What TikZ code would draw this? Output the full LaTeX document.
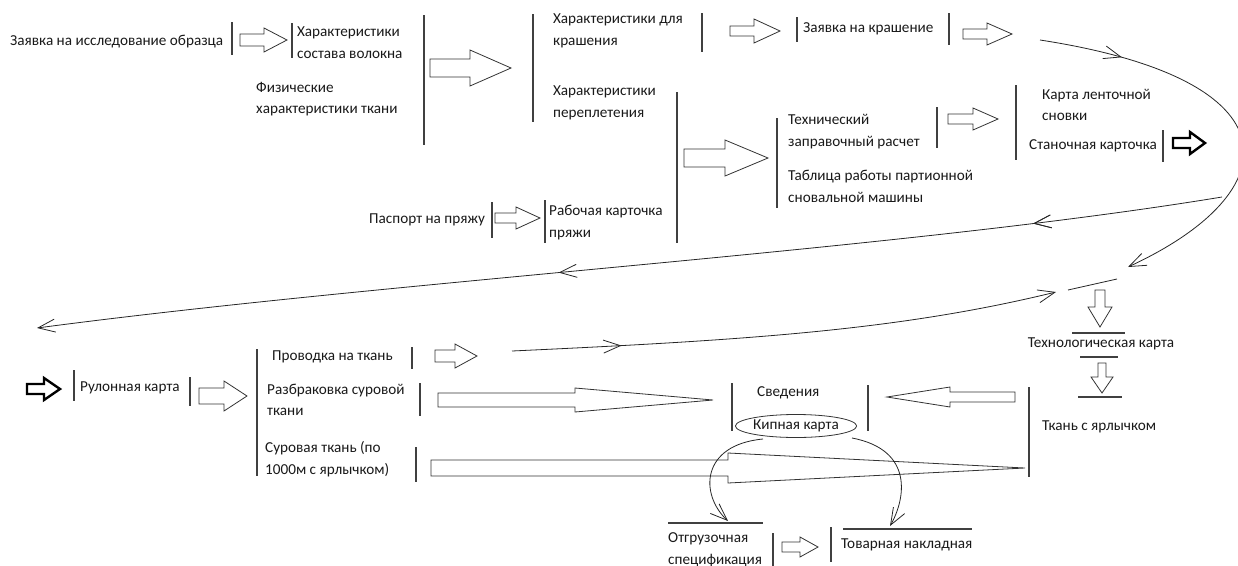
\documentclass[tikz,border=0pt]{standalone}
\usepackage{fontspec}
\setmainfont{Carlito}
\usepackage{tikz}
\usetikzlibrary{arrows.meta,shapes.geometric,decorations.markings}

% hollow block arrow: x from, x to, y, shaft half width, head half width, x where head starts
\newcommand{\blockarr}[7][]{\draw[blockline,#1] (#2,#4-#5) -- (#7,#4-#5) -- (#7,#4-#6) -- (#3,#4) -- (#7,#4+#6) -- (#7,#4+#5) -- (#2,#4+#5) -- cycle;}
% the same, pointing down: x, y from, y to, shaft half width, head half width, y where head starts
\newcommand{\blockdown}[7][]{\draw[blockline,#1] (#2-#5,#3) -- (#2-#5,#7) -- (#2-#6,#7) -- (#2,#4) -- (#2+#6,#7) -- (#2+#5,#7) -- (#2+#5,#3) -- cycle;}

\begin{document}
\begin{tikzpicture}[x=1pt,y=-1pt,
	txt/.style={anchor=west,align=left,inner sep=0pt,text=black!90,font=\fontsize{15.2}{21.5}\selectfont},
	bar/.style={draw=black!75,line width=1.1pt},
	blockline/.style={draw=black!80,line width=0.8pt},
	heavy/.style={line width=2.4pt,draw=black},
	barb/.style={-{Straight Barb[length=17pt,width=13pt]}},
	curve/.style={draw=black!85,line width=0.8pt,barb},
	midbarb/.style={postaction={decorate},decoration={markings,mark=at position #1 with {\arrow{Straight Barb[length=17pt,width=13pt]}}}}]
	\useasboundingbox (0,0) rectangle (1238,565);
	\clip (0,0) rectangle (1238,565);

	% upper part
	\node[txt] (req) at (10,42) {Заявка на исследование образца};
	\node[txt] (fibre) at (297,42.5) {Характеристики\\состава волокна};
	\node[txt] (phys) at (256,99) {Физические\\характеристики ткани};
	\node[txt] (dye) at (553,31) {Характеристики для\\крашения};
	\node[txt] (dyereq) at (803,29) {Заявка на крашение};
	\node[txt] (weave) at (553,103) {Характеристики\\переплетения};
	\node[txt] (tech) at (788,131.5) {Технический\\заправочный расчет};
	\node[txt] (table) at (788,186.5) {Таблица работы партионной\\сновальной машины};
	\node[txt] (tape) at (1042,105) {Карта ленточной\\сновки};
	\node[txt] (loom) at (1029,146) {Станочная карточка};
	\node[txt] (yarnpass) at (369,220) {Паспорт на пряжу};
	\node[txt] (yarncard) at (549,222.5) {Рабочая карточка\\пряжи};

	\draw[bar] (232,22) -- (232,55) (292,23) -- (292,58) (424,15) -- (424,145) (533,14) -- (533,122);
	\draw[bar] (702,13) -- (702,52) (797,17) -- (797,42) (949,13) -- (949,45);
	\draw[bar] (677,92) -- (677,243) (777,118) -- (777,208) (937,107) -- (937,148) (1016,85) -- (1016,160) (1163,130) -- (1163,162);
	\draw[bar] (492,202) -- (492,238) (545,200) -- (545,243);

	\blockarr{240}{287}{40}{6}{12}{264}
	\blockarr{430}{511}{68}{9}{18}{470}
	\blockarr{730}{780}{31}{5}{12}{754}
	\blockarr{963}{1012}{34}{5}{11}{987}
	\blockarr{684}{768}{158}{9}{18}{725}
	\blockarr{948}{998}{119}{5}{11}{973}
	\blockarr[heavy]{1173}{1205}{143}{5}{11}{1190}
	\blockarr{495}{540}{218}{5}{11}{516}

	% long connectors
	\coordinate (loopin) at (1040,40);
	\coordinate (loopout) at (1128,267);
	\coordinate (backin) at (1222,197);
	\coordinate (backout) at (37,328);
	\coordinate (fwdin) at (512,351);
	\coordinate (fwdout) at (1056,292);
	\coordinate (gapin) at (1068,290);
	\coordinate (gapout) at (1117,279);
	\draw[curve,midbarb=0.2] (loopin) .. controls (1300,80) and (1290,192) .. (loopout);
	\draw[curve,midbarb=0.16,postaction={decorate,decoration={markings,mark=at position 0.56 with {\arrow{Straight Barb[length=17pt,width=13pt]}}}}] (backin) .. controls (900,250) and (400,280) .. (backout);
	\draw[curve,midbarb=0.2] (fwdin) .. controls (750,340) and (900,330) .. (fwdout);
	\draw[draw=black!85,line width=0.8pt] (gapin) -- (gapout);

	% lower part
	\node[txt] (roll) at (80,388) {Рулонная карта};
	\node[txt] (thread) at (272,357) {Проводка на ткань};
	\node[txt] (sort) at (267,400) {Разбраковка суровой\\ткани};
	\node[txt] (grey) at (265,459) {Суровая ткань (по\\1000м с ярлычком)};
	\node[txt] (info) at (757,393) {Сведения};
	\node[txt,anchor=center,draw=black!80,line width=0.8pt,ellipse,inner sep=0pt,minimum width=108pt,minimum height=23pt] (bale) at (796,426) {Кипная карта};
	\node[txt,anchor=center] (techmap) at (1101,344) {Технологическая карта};
	\node[txt] (label) at (1042,427) {Ткань с ярлычком};
	\node[txt] (ship) at (668,550) {Отгрузочная\\спецификация};
	\node[txt] (invoice) at (841,545) {Товарная накладная};

	\draw[bar] (74,370) -- (74,401) (190,377) -- (190,406) (257,349) -- (257,476);
	\draw[bar] (412,347) -- (412,369) (420,383) -- (420,416) (416,447) -- (416,482);
	\draw[bar] (732,383) -- (732,431) (868,385) -- (868,431) (1029,387) -- (1029,477);
	\draw[bar] (773,533) -- (773,568) (831,527) -- (831,562);
	\draw[bar] (1072,333) -- (1125,333) (1080,357) -- (1118,357) (1078,397) -- (1122,397);
	\draw[bar] (668,523) -- (763,523) (843,529) -- (972,529);

	\blockarr[heavy]{27}{60}{389}{5}{11}{44}
	\blockarr{199}{247}{396}{8}{15}{224}
	\blockarr{435}{477}{356}{6}{12}{455}
	\blockarr{438}{713}{400}{7}{12}{575}
	\blockarr{431}{1025}{468}{8}{15}{728}
	\blockarr{1015}{887}{397}{5}{10}{950}
	\blockarr{782}{818}{547}{5}{10}{800}
	\blockdown{1100}{290}{327}{5}{12}{307}
	\blockdown{1102}{363}{393}{4}{11}{377}

	\coordinate (shipin) at (763,439);
	\coordinate (shipout) at (728,521);
	\coordinate (invin) at (852,438);
	\coordinate (invout) at (890,526);
	\draw[curve] (shipin) .. controls (700,445) and (700,495) .. (shipout);
	\draw[curve] (invin) .. controls (915,450) and (905,500) .. (invout);
\end{tikzpicture}
\end{document}
